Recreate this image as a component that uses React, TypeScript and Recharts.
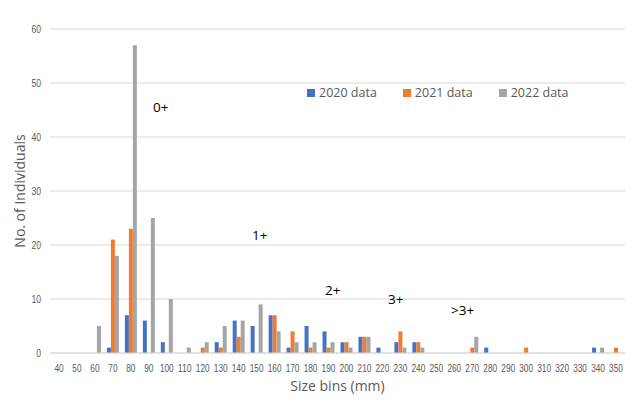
import React from 'react';
import { BarChart, Bar, XAxis, YAxis, CartesianGrid, Legend, Label } from 'recharts';

const categories = [40, 50, 60, 70, 80, 90, 100, 110, 120, 130, 140, 150, 160, 170, 180, 190, 200, 210, 220, 230, 240, 250, 260, 270, 280, 290, 300, 310, 320, 330, 340, 350];
const data2020 = [0, 0, 0, 1, 7, 6, 2, 0, 0, 2, 6, 5, 7, 1, 5, 4, 2, 3, 1, 2, 2, 0, 0, 0, 1, 0, 0, 0, 0, 0, 1, 0];
const data2021 = [0, 0, 0, 21, 23, 0, 0, 0, 1, 1, 3, 0, 7, 4, 1, 1, 2, 3, 0, 4, 2, 0, 0, 1, 0, 0, 1, 0, 0, 0, 0, 1];
const data2022 = [0, 0, 5, 18, 57, 25, 10, 1, 2, 5, 6, 9, 4, 2, 2, 2, 1, 3, 0, 1, 1, 0, 0, 3, 0, 0, 0, 0, 0, 0, 1, 0];
const yTicks = [0, 10, 20, 30, 40, 50, 60];
const seriesNames = ['2020 data', '2021 data', '2022 data'];
const seriesColors = ['#4472C4', '#ED7D31', '#A5A5A5'];
const annotations = [
  { text: '0+', left: 153, top: 98 },
  { text: '1+', left: 252, top: 226 },
  { text: '2+', left: 325, top: 281 },
  { text: '3+', left: 388, top: 290 },
  { text: '>3+', left: 451, top: 301 },
];

const rows = categories.map((c, i) => ({
  bin: String(c),
  a: data2020[i],
  b: data2021[i],
  c: data2022[i],
}));

const FONT = 'Open Sans, Noto Sans, sans-serif';
const TICKFONT = '"Liberation Sans", Arial, sans-serif';

const XTick = (props: any) => {
  const { x, y, payload } = props;
  const s = String(payload.value);
  return (
    <text x={x} y={y + 12.5} textAnchor="middle" fill="#595959" fontSize={11.5} fontFamily={TICKFONT}
      textLength={s.length * 4.6} lengthAdjust="spacingAndGlyphs">
      {s}
    </text>
  );
};

const YTick = (props: any) => {
  const { x, y, payload } = props;
  const s = String(payload.value);
  return (
    <text x={x} y={y + 4} textAnchor="end" fill="#595959" fontSize={11.5} fontFamily={TICKFONT}
      textLength={s.length * 4.8} lengthAdjust="spacingAndGlyphs">
      {s}
    </text>
  );
};

const LegendContent = () => (
  <div style={{ display: 'flex', fontFamily: FONT, fontSize: 12.5, color: '#595959' }}>
    {seriesNames.map((n, i) => (
      <div key={n} style={{ display: 'flex', alignItems: 'center', marginRight: 26 }}>
        <span style={{ display: 'inline-block', width: 8, height: 8, background: seriesColors[i], marginRight: 4 }} />
        <span>{n}</span>
      </div>
    ))}
  </div>
);

export default function App() {
  return (
    <div style={{ position: 'absolute', left: 0, top: 0, width: 640, height: 404, background: '#fff', fontFamily: FONT }}>
      <BarChart
        width={640}
        height={404}
        data={rows}
        margin={{ top: 12, right: 15, bottom: 0, left: 0 }}
        barGap={0}
        barCategoryGap={3}
      >
        <CartesianGrid vertical={false} stroke="#D9D9D9" />
        <XAxis
          dataKey="bin"
          height={51}
          tickLine={false}
          axisLine={{ stroke: '#D9D9D9' }}
          tick={<XTick />}
          tickMargin={0}
          interval={0}
        >
          <Label value="Size bins (mm)" position="insideBottom" offset={13} style={{ fill: '#595959', fontSize: 14, fontFamily: FONT }} />
        </XAxis>
        <YAxis
          width={50}
          domain={[0, 60]}
          ticks={yTicks}
          tickLine={false}
          axisLine={false}
          tick={<YTick />}
          tickMargin={3}
        >
          <Label value="No. of Individuals" angle={-90} position="insideLeft" offset={20} style={{ fill: '#595959', fontSize: 14, fontFamily: FONT, textAnchor: 'middle' }} />
        </YAxis>
        <Legend
          verticalAlign="top"
          content={<LegendContent />}
          wrapperStyle={{ position: 'absolute', top: 84, left: 307, width: 300 }}
        />
        <Bar dataKey="a" name={seriesNames[0]} fill={seriesColors[0]} barSize={4} isAnimationActive={false} />
        <Bar dataKey="b" name={seriesNames[1]} fill={seriesColors[1]} barSize={4} isAnimationActive={false} />
        <Bar dataKey="c" name={seriesNames[2]} fill={seriesColors[2]} barSize={4} isAnimationActive={false} />
      </BarChart>
      {annotations.map((a) => (
        <div key={a.text} style={{ position: 'absolute', left: a.left, top: a.top, fontSize: 13.5, color: '#000', fontFamily: FONT, lineHeight: '18px' }}>
          {a.text}
        </div>
      ))}
    </div>
  );
}
